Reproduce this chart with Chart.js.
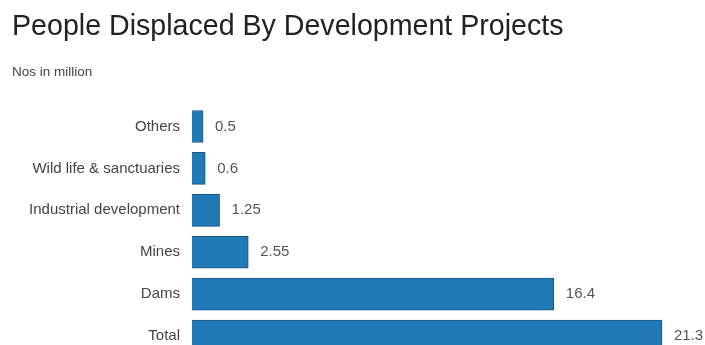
<!DOCTYPE html>
<html>
<head>
<meta charset="utf-8">
<script src="https://cdn.jsdelivr.net/npm/chart.js@4"></script>
<style>
  html, body { margin: 0; padding: 0; background: #fff; overflow: hidden; }
  canvas { display: block; }
</style>
</head>
<body>
<canvas id="chart" width="705" height="378"></canvas>
<script>
// data
const categories = ["Others", "Wild life & sanctuaries", "Industrial development", "Mines", "Dams", "Total"];
const displaced = [0.5, 0.6, 1.25, 2.55, 16.4, 21.3];
const valueLabels = ["0.5", "0.6", "1.25", "2.55", "16.4", "21.3"];

// writes the value just right of each bar
const valueLabelPlugin = {
  id: "valueLabels",
  afterDatasetsDraw(chart) {
    const ctx = chart.ctx;
    const meta = chart.getDatasetMeta(0);
    ctx.save();
    ctx.font = "15px 'Liberation Sans', Arial, sans-serif";
    ctx.fillStyle = "#555";
    ctx.textAlign = "left";
    ctx.textBaseline = "middle";
    meta.data.forEach((bar, i) => {
      ctx.fillText(valueLabels[i], bar.x + 12, bar.y);
    });
    ctx.restore();
  }
};

new Chart(document.getElementById("chart"), {
  type: "bar",
  data: {
    labels: categories,
    datasets: [{
      data: displaced,
      backgroundColor: "#2179b6",
      borderColor: "#1a5282",
      borderWidth: 1,
      barThickness: 32
    }]
  },
  options: {
    indexAxis: "y",
    responsive: false,
    animation: false,
    layout: { padding: { left: 12, right: 10, top: 0, bottom: 4 } },
    plugins: {
      legend: { display: false },
      tooltip: { enabled: false },
      title: {
        display: true,
        text: "People Displaced By Development Projects",
        align: "start",
        color: "#222",
        font: { family: "'Liberation Sans', Arial, sans-serif", size: 28.6, weight: "normal" },
        padding: { top: 10, bottom: 10 }
      },
      subtitle: {
        display: true,
        text: "Nos in million",
        align: "start",
        color: "#444",
        font: { family: "'Liberation Sans', Arial, sans-serif", size: 13.5, weight: "normal" },
        padding: { top: 10, bottom: 25 }
      }
    },
    scales: {
      x: {
        display: false,
        min: 0,
        max: 22.8
      },
      y: {
        grid: { display: false, drawTicks: false },
        border: { display: false },
        ticks: {
          color: "#444",
          padding: 12,
          font: { family: "'Liberation Sans', Arial, sans-serif", size: 15 }
        },
        afterFit(scale) { scale.width = 180; }
      }
    }
  },
  plugins: [valueLabelPlugin]
});
</script>
</body>
</html>
